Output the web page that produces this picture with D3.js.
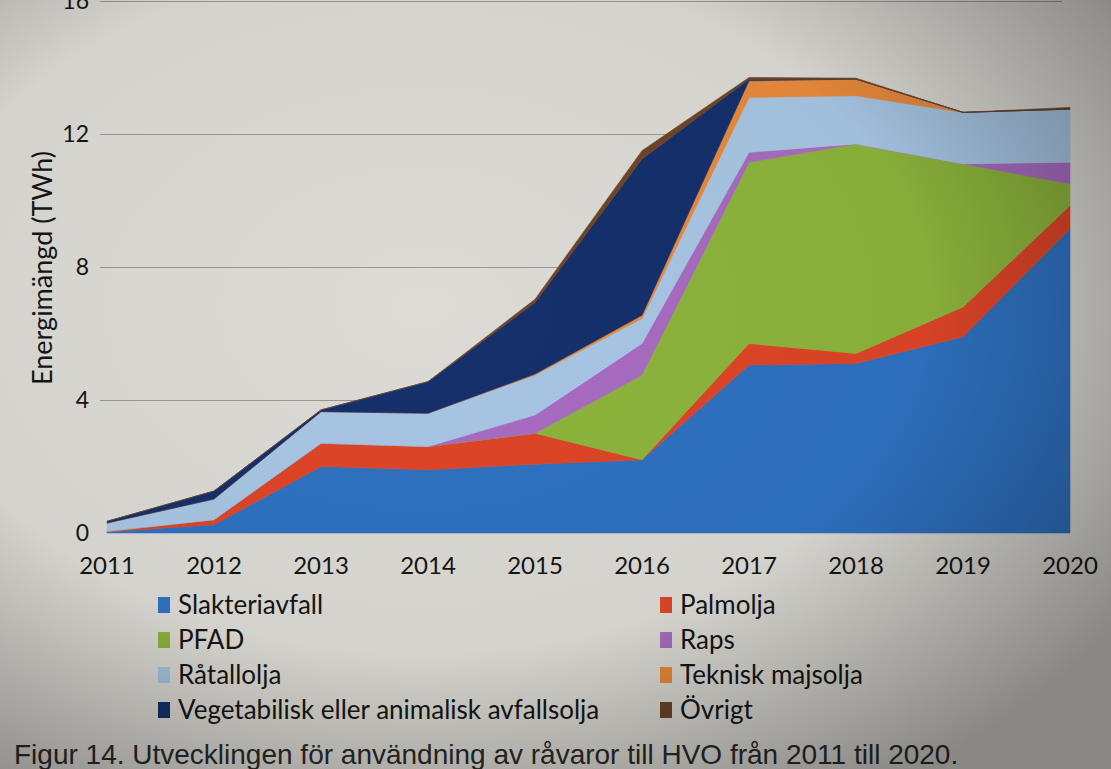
<!DOCTYPE html>
<head>
<meta charset="utf-8">
<script src="https://d3js.org/d3.v7.min.js"></script>
<style>
    body { margin: 0; background: #d6d4cf; }
    text { font-family: Lato, "Open Sans", sans-serif; fill: #151515; }
    .grid line { stroke: #9a9894; stroke-width: 1.2px; }
    .grid path { stroke-width: 0; }
    .caption { font-family: "Liberation Sans", Arial, sans-serif; fill: #2a2a2a; }
</style>
</head>
<body>
<svg width="1111" height="769"></svg>
<script>
    // data (TWh)
    var years = [2011, 2012, 2013, 2014, 2015, 2016, 2017, 2018, 2019, 2020];
    var seriesNames = ["Slakteriavfall", "Palmolja", "PFAD", "Raps", "Råtallolja",
                       "Teknisk majsolja", "Vegetabilisk eller animalisk avfallsolja", "Övrigt"];
    var slakteriavfall = [0.03, 0.25, 2.0, 1.9, 2.07, 2.2, 5.05, 5.1, 5.9, 9.15];
    var palmolja       = [0.02, 0.15, 0.7, 0.7, 0.93, 0.0, 0.65, 0.3, 0.9, 0.7];
    var pfad           = [0, 0, 0, 0, 0, 2.55, 5.45, 6.3, 4.3, 0.65];
    var raps           = [0, 0, 0, 0, 0.55, 0.95, 0.3, 0, 0, 0.65];
    var ratallolja     = [0.25, 0.62, 0.95, 1.0, 1.2, 0.75, 1.65, 1.45, 1.55, 1.6];
    var majsolja       = [0, 0, 0, 0, 0.03, 0.1, 0.5, 0.5, 0, 0];
    var avfallsolja    = [0.05, 0.24, 0.05, 0.95, 2.15, 4.7, 0.05, 0, 0, 0];
    var ovrigt         = [0, 0, 0, 0, 0.1, 0.25, 0.05, 0.03, 0, 0.05];
    var yTicks = [0, 4, 8, 12, 16];
    var colors = ["#2f72c2", "#df4527", "#8db53c", "#a86cc1", "#a8c6e4", "#e98a3c", "#15306c", "#6e4527"];
    var caption = "Figur 14. Utvecklingen för användning av råvaror till HVO från 2011 till 2020.";

    var allSeries = [slakteriavfall, palmolja, pfad, raps, ratallolja, majsolja, avfallsolja, ovrigt];
    var table = years.map(function (yr, i) {
        var row = { year: yr };
        seriesNames.forEach(function (n, k) { row[n] = allSeries[k][i]; });
        return row;
    });

    var svg = d3.select("svg");

    // background like the photographed screen, lighter in the middle
    var defs = svg.append("defs");
    var rg = defs.append("radialGradient").attr("id", "vig")
        .attr("cx", "38%").attr("cy", "40%").attr("r", "75%");
    rg.append("stop").attr("offset", "0%").attr("stop-color", "#000").attr("stop-opacity", 0);
    rg.append("stop").attr("offset", "60%").attr("stop-color", "#000").attr("stop-opacity", 0.04);
    rg.append("stop").attr("offset", "100%").attr("stop-color", "#000").attr("stop-opacity", 0.38);

    svg.append("rect").attr("width", 1111).attr("height", 769).attr("fill", "#dddbd5");

    var x = d3.scaleLinear().domain([2011, 2020]).range([107, 1070]);
    var y = d3.scaleLinear().domain([0, 16]).range([533, 1]);

    // gridlines
    svg.append("g").attr("class", "grid")
        .attr("transform", "translate(100,0)")
        .call(d3.axisLeft(y).tickValues(yTicks.slice(1)).tickSize(-962).tickFormat(""));

    // stacked areas
    var stack = d3.stack().keys(seriesNames);
    var layers = stack(table);
    var area = d3.area()
        .x(function (d) { return x(d.data.year); })
        .y0(function (d) { return y(d[0]); })
        .y1(function (d) { return y(d[1]); });

    svg.append("g").selectAll("path")
        .data(layers)
        .enter().append("path")
        .attr("d", area)
        .attr("fill", function (d, i) { return colors[i]; })
        .attr("stroke", function (d, i) { return colors[i]; })
        .attr("stroke-width", 0.6);

    // y tick labels
    svg.append("g").selectAll("text")
        .data(yTicks)
        .enter().append("text")
        .attr("x", 89)
        .attr("y", function (d) { return y(d) + 8; })
        .attr("text-anchor", "end")
        .style("font-size", "23px")
        .text(function (d) { return d; });

    // x tick labels
    svg.append("g").selectAll("text")
        .data(years)
        .enter().append("text")
        .attr("x", function (d) { return x(d); })
        .attr("y", 574)
        .attr("text-anchor", "middle")
        .style("font-size", "24px")
        .text(function (d) { return d; });

    // y axis title
    svg.append("text")
        .attr("transform", "translate(52,268) rotate(-90)")
        .attr("text-anchor", "middle")
        .style("font-size", "27px")
        .text("Energimängd (TWh)");

    // legend, two columns filled row by row
    var legend = svg.append("g").selectAll("g")
        .data(seriesNames)
        .enter().append("g")
        .attr("transform", function (d, i) {
            return "translate(" + (i % 2 ? 660 : 158) + "," + (606 + Math.floor(i / 2) * 35) + ")";
        });
    legend.append("rect")
        .attr("x", 0).attr("y", -9)
        .attr("width", 12).attr("height", 16)
        .attr("fill", function (d, i) { return colors[i]; });
    legend.append("text")
        .attr("x", 20).attr("y", 8)
        .style("font-size", "26px")
        .text(function (d) { return d; });

    svg.append("text")
        .attr("class", "caption")
        .attr("x", 14).attr("y", 764)
        .style("font-size", "28px")
        .text(caption);

    // photo vignette on top
    svg.append("rect").attr("width", 1111).attr("height", 769)
        .attr("fill", "url(#vig)").style("pointer-events", "none");
</script>
</body>
